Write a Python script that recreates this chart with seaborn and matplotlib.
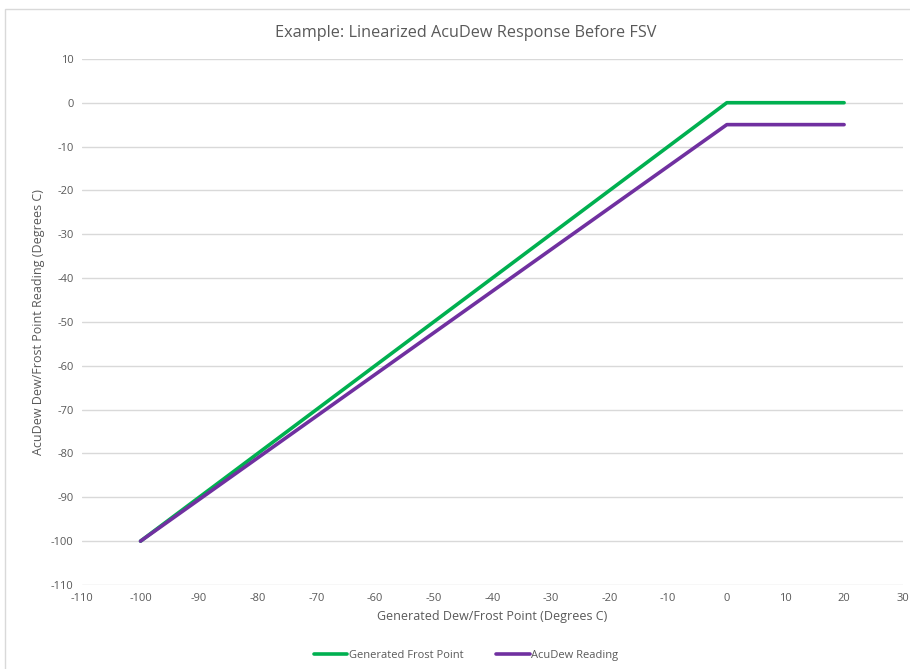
#linearized acudew response chart
import numpy as np
import pandas as pd
import seaborn as sns
import matplotlib.pyplot as plt
from matplotlib.patches import Rectangle

# data
generated_x = [-100, 0, 20]
generated_frost = [-100, 0, 0]
acudew_x = [-100, 0, 20]
acudew_reading = [-100, -5, -5]
series_names = ["Generated Frost Point", "AcuDew Reading"]

df = pd.concat([
    pd.DataFrame({"x": generated_x, "y": generated_frost, "series": series_names[0]}),
    pd.DataFrame({"x": acudew_x, "y": acudew_reading, "series": series_names[1]}),
])

sns.set_theme(style="white")
plt.rcParams['font.family'] = ['Open Sans', 'DejaVu Sans']
plt.rcParams['axes.unicode_minus'] = False  # excel style hyphen minus
grey = "#595959"

fig = plt.figure(figsize=(9.1, 6.69), dpi=100)
ax = fig.add_axes([0.09, 0.1256, 0.902, 0.7864])

sns.lineplot(data=df, x="x", y="y", hue="series", sort=False,
             palette=["#00B050", "#7030A0"], linewidth=2.6, ax=ax, legend=True)

ax.set_xlim(-110, 30)
ax.set_ylim(-110, 10)
ax.set_xticks(np.arange(-110, 31, 10))
ax.set_yticks(np.arange(-110, 11, 10))
ax.yaxis.grid(True, color="#D9D9D9", lw=1)
ax.xaxis.grid(False)
for s in ax.spines.values():
    s.set_visible(False)
ax.tick_params(colors=grey, labelsize=8, length=0, pad=6)

ax.set_xlabel("Generated Dew/Frost Point (Degrees C)", color=grey, fontsize=9)
ax.set_ylabel("AcuDew Dew/Frost Point Reading (Degrees C)", color=grey, fontsize=9)
fig.suptitle("Example: Linearized AcuDew Response Before FSV", color=grey, fontsize=11.7,
             x=0.512, y=0.95, va="center")

leg = ax.legend(loc="upper center", bbox_to_anchor=(0.468, -0.105), ncol=2, frameon=False,
                fontsize=8, handlelength=3, handletextpad=0.1, columnspacing=3)
for t in leg.get_texts():
    t.set_color(grey)

fig.patches.append(Rectangle((0.006, -0.01), 1.1, 0.997, transform=fig.transFigure,
                             fill=False, edgecolor="#D9D9D9", lw=1))

plt.savefig("out.png", dpi=100)
